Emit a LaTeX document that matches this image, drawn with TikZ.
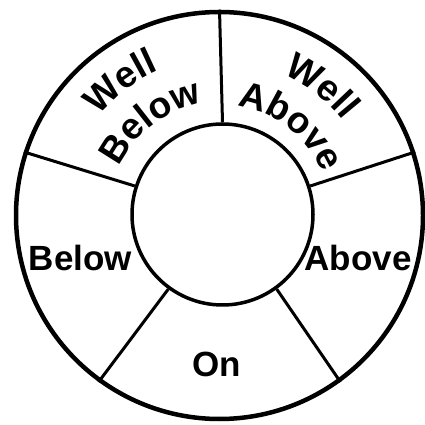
\documentclass[tikz,border=0pt]{standalone}
\usepackage{fontspec}
\setmainfont{Liberation Sans}
\usetikzlibrary{decorations.text}
\newcommand\lab{\fontsize{35}{40}\selectfont\bfseries}
\newcommand\arclab{\fontsize{37}{42}\selectfont\bfseries}
\begin{document}
\begin{tikzpicture}[x=1pt,y=1pt,
  ring/.style={circle, draw, inner sep=0pt},
  divider/.style={line width=3pt},
  lbl/.style={font=\lab, inner sep=0pt},
  arctext/.style={decorate, decoration={text along path, text={|\arclab|#1}, text align=center}}]
\useasboundingbox (0,0) rectangle (424,425);
\node[ring, line width=4.5pt, minimum size=407pt] (outer) at (219.5,209.5) {};
\node[ring, line width=3.5pt, minimum size=181pt] (inner) at (222.5,210.5) {};
\foreach \a in {90,18,-54,-126,162} \draw[divider] (inner.\a) -- (outer.\a);
\coordinate (c) at (221,210);
\node[lbl] (below) at (80.5,167) {Below};
\node[lbl] (above) at (358,167) {Above};
\node[lbl] (on) at (217,61) {On};
\path[arctext=Well] ([shift={(187:157)}]c) arc[start angle=187, end angle=67, radius=157];
\path[arctext=Below] ([shift={(187:113)}]c) arc[start angle=187, end angle=67, radius=113];
\path[arctext=Well] ([shift={(112:154)}]c) arc[start angle=112, end angle=-8, radius=154];
\path[arctext=Above] ([shift={(112:110)}]c) arc[start angle=112, end angle=-8, radius=110];
\end{tikzpicture}
\end{document}
